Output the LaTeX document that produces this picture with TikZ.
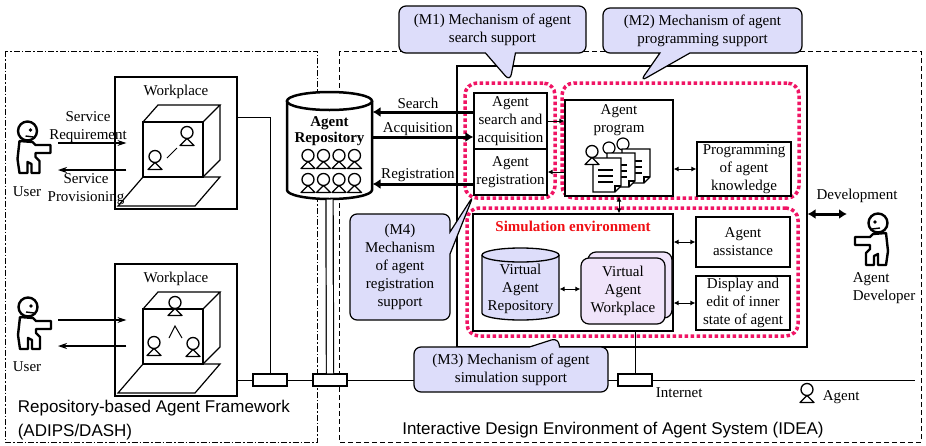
\documentclass[tikz,border=0pt]{standalone}
\usepackage{fontspec}
\setmainfont{Liberation Serif}
\setsansfont{Liberation Sans}
\usetikzlibrary{arrows.meta,positioning,shapes.callouts}

\definecolor{callfill}{RGB}{221,221,250}
\definecolor{wpfill}{RGB}{240,228,250}
\definecolor{zonered}{RGB}{240,20,100}
\definecolor{simred}{RGB}{240,15,20}

\tikzset{
  box/.style={draw, line width=1.2pt, fill=white, align=center, inner sep=1pt},
  ghost/.style={inner sep=0pt},
  zone/.style={draw=zonered, line width=3.5pt, dash pattern=on 3.5pt off 2.5pt, rounded corners=12pt},
  mcall/.style={rectangle callout, draw, line width=1.2pt, fill=callfill, rounded corners=7pt,
    align=center, inner sep=2pt, callout pointer width=30pt},
  netbox/.style={draw, line width=1.2pt, fill=white, minimum width=34pt, minimum height=12pt, inner sep=0pt},
  arr/.style={-{Latex[length=5pt,width=5pt]}},
  darr/.style={{Latex[length=5pt,width=5pt]}-{Latex[length=5pt,width=5pt]}},
  bigarr/.style={-{Latex[length=8pt,width=10pt]}, line width=3pt},
  bigdarr/.style={{Latex[length=8pt,width=10pt]}-{Latex[length=8pt,width=10pt]}, line width=3pt},
  uarr/.style={-{Stealth[length=9pt,width=6pt]}, line width=1.2pt},
  agent/.pic={
    \draw[line width=1.3pt, fill=white] (0,-3.5) circle[radius=6pt];
    \draw[line width=1.3pt, fill=white, line join=round] (0,2.5) -- (-7,9.5) -- (7,9.5) -- cycle;
  },
  user/.pic={
    \draw[line width=2.4pt, line join=round, fill=white] (-8,-4) -- (5,-3) -- (8,0) -- (23,0) -- (23,8)
      -- (8,8) -- (8,12) -- (12,16) -- (12,28) -- (4,28) -- (4,19) -- (0,17) -- (0,28) -- (-8,28)
      -- (-10,14) -- cycle;
    \draw[line width=2.4pt, fill=white] (0,-14) circle[radius=9.5pt];
    \fill (3,-15) circle[radius=1.8pt];
    \draw[line width=1.4pt] (-2,-9) -- (6,-8);
  },
  screen/.pic={
    \draw[line width=1.2pt] (0,0) rectangle (60,55);
    \draw[line width=1.2pt] (0,0) -- (15,-17) -- (77,-17) -- (60,0);
    \draw[line width=1.2pt] (77,-17) -- (77,38) -- (60,55);
    \draw[line width=1.2pt] (0,55) -- (77,55) -- (52,84) -- (-25,84) -- cycle;
  },
  doc/.pic={
    \draw[line width=1.2pt, fill=white] (0,0) -- (28,0) -- (28,28) -- (22,34) -- (0,34) -- cycle;
    \draw[line width=1.2pt] (22,34) -- (22,28) -- (28,28);
    \foreach \t in {12,18,24} \draw[line width=1.2pt] (5,\t) -- (20,\t);
  }
}

\begin{document}
\begin{tikzpicture}[x=1pt, y=-1pt, font=\fontsize{15}{18}\selectfont, line width=1pt]
\useasboundingbox (0,0) rectangle (926,445);

% the two frameworks
\draw[dash pattern=on 6pt off 2pt on 1.5pt off 2pt] (5,51) rectangle (317,442);
\draw[dash pattern=on 5pt off 3pt] (339,51) rectangle (921,442);
\node[font=\sffamily\fontsize{17}{24}\selectfont, align=left, anchor=west] (adips) at (14,420)
  {Repository-based Agent Framework\\(ADIPS/DASH)};
\node[font=\sffamily\fontsize{17}{24}\selectfont] (idealbl) at (613,430)
  {Interactive Design Environment of Agent System (IDEA)};

% network
\node[netbox] (nb1) at (270,380) {};
\node[netbox] (nb2) at (330,380) {};
\node[netbox] (nb3) at (635,380) {};
\coordinate (netend) at (915,380);

% workplaces
\node[box, minimum width=122pt, minimum height=132pt] (wp1) at (176,143) {};
\node[below=5pt of wp1.north] (wp1lbl) {Workplace};
\pic at (143,122) {screen};
\draw (167,158) -- (177,148);
\pic at (155,160) {agent};
\pic at (187,136) {agent};

\node[box, minimum width=122pt, minimum height=132pt] (wp2) at (176,330) {};
\node[below=5pt of wp2.north] (wp2lbl) {Workplace};
\pic at (143,309) {screen};
\draw (169,338) -- (175,326) -- (182,338);
\pic at (175,306) {agent};
\pic at (154,346) {agent};
\pic at (193,347) {agent};

\draw (wp2.east |- nb1) -- (nb1.west);
\draw (nb1.east) -- (nb2.west) (nb2.east) -- (nb3.west) (nb3.east) -- (netend);
\draw ([yshift=26pt]wp1.east) -| (nb1.north);

% users
\pic at (27.5,145) {user};
\node (u1lbl) at (27,192) {User};
\coordinate (u1req) at (58,143);
\coordinate (u1pro) at (58,170);
\draw[uarr, shorten >=-12pt] (u1req) -- (u1req -| wp1.west);
\draw[uarr, shorten <=-12pt] (u1pro -| wp1.west) -- (u1pro);
\node[align=center] (reqlbl) at (88,127) {Service\\Requirement};
\node[align=center] (prolbl) at (86,189) {Service\\Provisioning};

\pic at (28,321) {user};
\node (u2lbl) at (27,367) {User};
\coordinate (u2req) at (58,320);
\coordinate (u2pro) at (58,346);
\draw[uarr, shorten >=-12pt] (u2req) -- (u2req -| wp2.west);
\draw[uarr, shorten <=-12pt] (u2pro -| wp2.west) -- (u2pro);

% agent repository
\draw[line width=2.5pt, fill=white] (287,101) -- (287,190)
  arc[start angle=180, end angle=360, x radius=42.5pt, y radius=9pt] -- (372,101);
\draw[line width=2.5pt, fill=white] (329.5,101) ellipse[x radius=42.5pt, y radius=9pt];
\node[font=\bfseries\fontsize{15}{16}\selectfont, align=center] (repolbl) at (329.5,131) {Agent\\Repository};
\foreach \i in {0,...,3}
  \foreach \j in {0,1}
    \pic at (308+15.5*\i,159+24*\j) {agent};
\node[ghost, minimum width=85pt, minimum height=107pt] (repo) at (329.5,145.5) {};
\draw[double, double distance=6pt, line width=1.2pt] (repo.south) -- (nb2.north);

% design environment
\node[box, minimum width=350pt, minimum height=281pt] (idea) at (632,206.5) {};
\node[zone, minimum width=90pt, minimum height=115pt] (m1zone) at (510,140.5) {};
\node[zone, minimum width=237pt, minimum height=115pt] (m2zone) at (680.5,140.5) {};
\node[zone, minimum width=331pt, minimum height=128pt] (m3zone) at (632.5,272) {};

\node[box, minimum width=73pt, minimum height=56pt] (srch) at (510.5,121) {Agent\\search and\\acquisition};
\node[box, minimum width=73pt, minimum height=46pt] (reg) at (510.5,172) {Agent\\registration};
\node[box, minimum width=108pt, minimum height=96pt] (prog) at (619,148) {};
\node[align=center, below=1pt of prog.north] (proglbl) {Agent\\program};
\node[box, minimum width=94pt, minimum height=54pt] (know) at (744,169) {Programming\\of agent\\knowledge};

% agents with their programs
\draw[line width=1.2pt, fill=white] (623,144) circle[radius=6pt];
\pic at (622,149) {doc};
\draw[line width=1.2pt, fill=white] (609,148) circle[radius=6pt];
\pic at (607,153) {doc};
\pic at (593,158) {doc};
\pic at (592,155) {agent};

% simulation environment
\node[box, minimum width=200pt, minimum height=117pt] (sim) at (573,272.5) {};
\node[font=\bfseries\fontsize{15}{18}\selectfont, text=simred, below=4pt of sim.north] (simlbl)
  {Simulation environment};
\draw[line width=1.3pt, fill=callfill] (482,255) -- (482,313)
  arc[start angle=180, end angle=360, x radius=38.5pt, y radius=7pt] -- (559,255);
\draw[line width=1.3pt, fill=callfill] (520.5,255) ellipse[x radius=38.5pt, y radius=7pt];
\node[ghost, minimum width=77pt, minimum height=65pt, align=center] (vrep) at (520.5,289)
  {Virtual\\Agent\\Repository};
\node[box, fill=wpfill, rounded corners=8pt, minimum width=84pt, minimum height=66pt] (vwpback) at (630,285) {};
\node[box, fill=wpfill, rounded corners=8pt, minimum width=84pt, minimum height=66pt] (vwp) at (623,291)
  {Virtual\\Agent\\Workplace};
\node[box, minimum width=94pt, minimum height=50pt] (assist) at (743,242) {Agent\\assistance};
\node[box, minimum width=94pt, minimum height=54pt] (disp) at (743,303) {Display and\\edit of inner\\state of agent};

\draw[arr] (srch.east) -- (srch.east -| prog.west);
\draw[arr] (reg.east -| prog.west) -- (reg.east);
\draw[darr] (know.west) -- (know.west -| prog.east);
\draw[darr] (prog.south) -- (prog.south |- sim.north);
\draw[darr] (vrep.east) -- (vrep.east -| vwp.west);
\draw[darr] (assist.west) -- (assist.west -| sim.east);
\draw[darr] (disp.west) -- (disp.west -| sim.east);
\draw (nb3.north) -- (nb3.north |- sim.south);

% repository access
\draw[bigarr] ([yshift=9pt]srch.west) -- ([yshift=9pt]srch.west -| repo.east)
  node[pos=0.55, above, inner sep=2pt] {Search};
\draw[bigarr] ([yshift=-16pt]srch.west -| repo.east) -- ([yshift=-16pt]srch.west)
  node[pos=0.45, above, inner sep=0pt] {Acquisition};
\draw[bigarr] ([yshift=-12pt]reg.west) -- ([yshift=-12pt]reg.west -| repo.east)
  node[pos=0.55, above, inner sep=1pt] {Registration};

% developer
\coordinate (devtip) at (847,214);
\draw[bigdarr] (devtip -| idea.east) -- (devtip);
\node (devlbl) at (857,196) {Development};
\pic[xscale=-1] at (878,237) {user};
\node[align=left, anchor=west] (devname) at (849,288) {Agent\\Developer};

\node[anchor=west] (inet) at (652,393) {Internet};
\pic at (807,393) {agent};
\node[anchor=west] (agentkey) at (819,397) {Agent};

% mechanisms
\node[mcall, minimum width=187pt, minimum height=47pt, callout absolute pointer={(m1zone.north)}] (m1)
  at (492.5,29.5) {(M1) Mechanism of agent\\search support};
\node[mcall, minimum width=199pt, minimum height=45pt,
  callout absolute pointer={([xshift=80pt]m2zone.north west)}] (m2)
  at (702.5,30.5) {(M2) Mechanism of agent\\programming support};
\node[mcall, minimum width=194pt, minimum height=45pt,
  callout absolute pointer={([xshift=93pt]m3zone.south west)}] (m3)
  at (511,369.5) {(M3) Mechanism of agent\\simulation support};
\node[mcall, minimum width=100pt, minimum height=106pt, callout pointer width=22pt,
  callout absolute pointer={(reg.south west)}] (m4)
  at (400,267) {(M4)\\Mechanism\\of agent\\registration\\support};
\end{tikzpicture}
\end{document}
